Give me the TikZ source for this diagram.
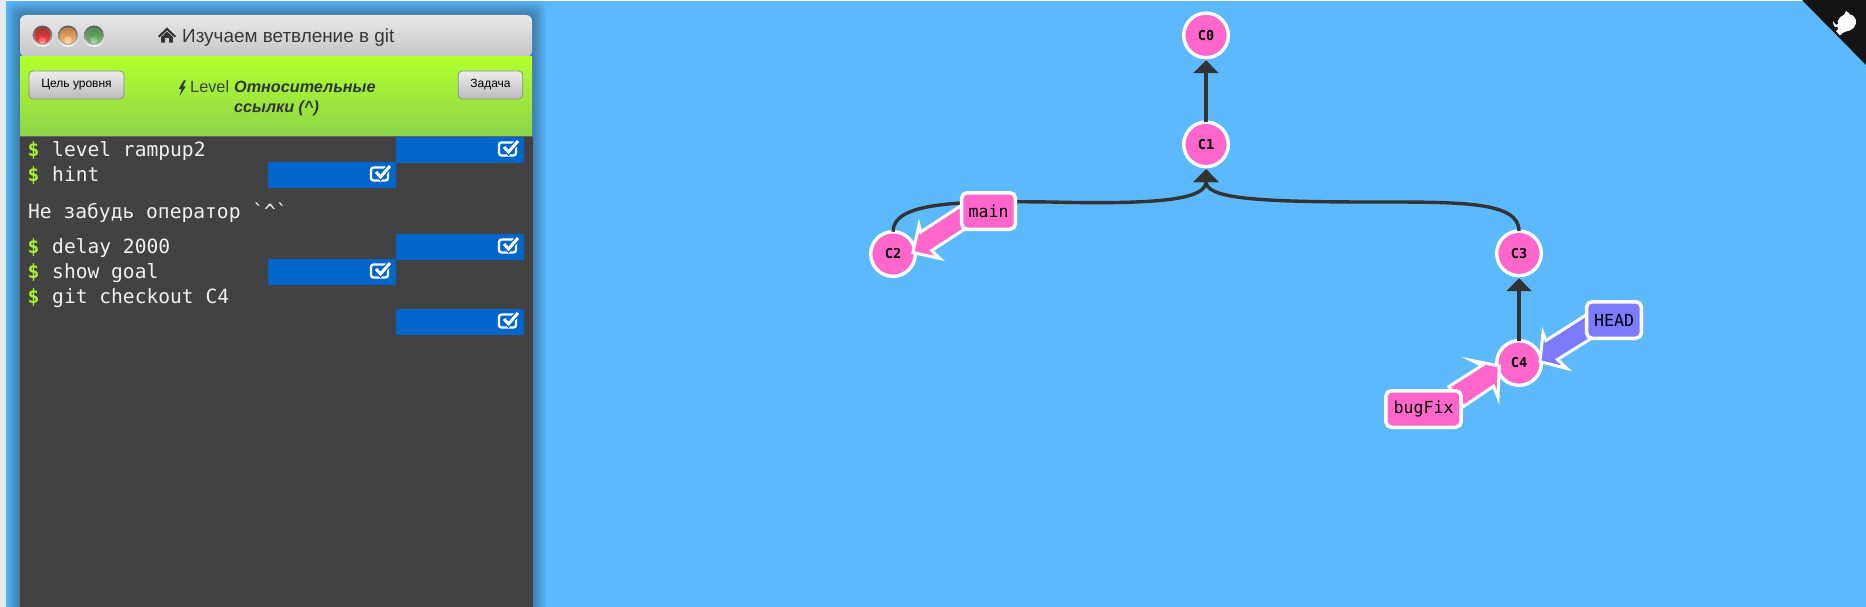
\documentclass[tikz,border=0pt]{standalone}
\usepackage{fontspec}
\setmainfont{Liberation Sans}
\newfontfamily\termfont{DejaVu Sans Mono}
\newfontfamily\gitfont{DejaVu Sans Mono}
\usetikzlibrary{arrows.meta,calc}
\definecolor{bgblue}{HTML}{5CB9FC}
\definecolor{leftstrip}{HTML}{E3ECF7}
\definecolor{pinkc}{HTML}{FF66CC}
\definecolor{headc}{HTML}{7B7BFF}
\definecolor{termbg}{HTML}{424242}
\definecolor{chkblue}{HTML}{0066CC}
\definecolor{dollar}{HTML}{A6F12E}
\definecolor{edgec}{HTML}{333333}
\definecolor{greentop}{HTML}{B0FF2C}
\definecolor{greenbot}{HTML}{8ED44A}
\tikzset{
  commit/.style={circle,draw=white,line width=3.4pt,fill=pinkc,minimum size=44.6pt,inner sep=0pt,outer sep=0pt,
    font=\gitfont\bfseries\fontsize{13.6}{14}\selectfont,text=black},
  branchbox/.style={draw=white,line width=3.5pt,fill=pinkc,rounded corners=5.5pt,minimum height=36.5pt,inner sep=0pt,outer sep=0pt,
    font=\termfont\fontsize{16.6}{17}\selectfont,text=black},
  refarrow/.style={draw=white,line width=3pt,fill=pinkc,line join=miter,miter limit=8},
  gitedge/.style={draw=edgec,line width=3.4pt,-{Triangle[width=25pt,length=13pt]},shorten >=2.5pt},
  cmd/.style={anchor=base west,inner sep=0pt,text=white!94!black,font=\termfont\fontsize{19.6}{20}\selectfont},
  dollarmark/.style={anchor=base west,inner sep=0pt,text=dollar,font=\termfont\bfseries\fontsize{19.6}{20}\selectfont},
  donebox/.style={fill=chkblue,minimum width=128pt,minimum height=25.6pt,inner sep=0pt,outer sep=0pt},
  btn/.style={draw=black!45,line width=0.8pt,rounded corners=4pt,top color=white!93!black,bottom color=black!27,
    minimum height=28pt,inner sep=0pt,font=\fontsize{12}{13}\selectfont,text=black},
  donemark/.pic={
    \draw[white,line width=2.3pt,rounded corners=2.5pt] (-9,-6.5) rectangle (8,6.5);
    \draw[chkblue,line width=5.5pt] (-4,-2) -- (0.5,3) -- (10,-8);
    \draw[white,line width=3pt] (-4,-2) -- (0.5,3) -- (10,-8);
  },
  light/.pic={
    \fill[white] (0,1.4) circle (10);
    \shade[top color=black!65,bottom color=black!25] (0,0) circle (10);
  }
}
\newcommand{\lamp}[4]{%
  \pic at (#1,35.5) {light};
  \shade[top color=#2,bottom color=#3] (#1,35.5) circle (8.2);
  \shade[top color=#3,bottom color=#4] (#1,40) circle (3.6);
}
\begin{document}
\begin{tikzpicture}[x=1pt,y=-1pt]
\useasboundingbox (0,0) rectangle (1866,607);
% page
\fill[bgblue] (0,0) rectangle (1866,607);
\fill[white] (0,0) rectangle (1866,1);
\fill[leftstrip] (0,0) rectangle (6,607);
% panel shadow
\begin{scope}
  \clip (6,1) rectangle (546,607);
  \foreach \s in {1,...,14}
    \fill[black,opacity=0.022,rounded corners=8pt] (20-\s,15-\s) rectangle (532+\s,640);
\end{scope}
% panel
\shade[top color=white!91!black,bottom color=black!23,rounded corners=6pt] (20,57) -- (20,15) -- (532,15) -- (532,57) -- cycle;
\fill[black!50!blue!30!white] (20,56.2) rectangle (532,57.2);
\shade[top color=greentop,bottom color=greenbot] (20,57) rectangle (532,136);
\fill[termbg] (19.5,136) rectangle (532.5,607);
\draw[black!60,line width=0.7pt] (19.5,136) -- (532.5,136);
% traffic lights
\lamp{42.5}{red!55!black!80!white}{red!75!white}{red!30!white}
\lamp{68}{orange!65!black!75!white}{orange!55!white}{orange!25!white}
\lamp{94}{green!35!black!70!white}{green!50!black!55!white}{green!40!black!25!white}
% home icon and title
\fill[edgec] (167,27.5) -- (176,36) -- (174.6,37.5) -- (167,30.4) -- (159.4,37.5) -- (158,36) -- cycle;
\fill[edgec] (167,31.6) -- (172.8,37) -- (172.8,42.6) -- (169,42.6) -- (169,38) -- (165,38) -- (165,42.6) -- (161.2,42.6) -- (161.2,37) -- cycle;
\node[anchor=base west,inner sep=0pt,text=black!78,font=\fontsize{18.9}{19}\selectfont] (title) at (182,42.5) {Изучаем ветвление в git};
% level bar
\node[btn,minimum width=95pt,text depth=3pt,text height=9pt] (goalbtn) at (76.5,85) {Цель уровня};
\node[btn,minimum width=64.5pt,text depth=3pt,text height=9pt] (taskbtn) at (490.5,85) {Задача};
\fill[edgec] (183.8,80.5) -- (178.8,88.8) -- (181.6,88.8) -- (179.6,96) -- (185.8,86.4) -- (182.9,86.4) -- (185.8,80.5) -- cycle;
\node[anchor=base west,inner sep=0pt,text=black!75,font=\fontsize{16.3}{16}\selectfont] (levelword) at (190,93) {Level};
\node[anchor=north west,inner sep=0pt,align=left,text=black!80,font=\bfseries\itshape\fontsize{16.2}{20}\selectfont] (levelname) at (234,80.5) {Относительные\\ссылки (\textasciicircum)};
% terminal
\node[donebox] (d1) at (460,150) {};
\node[donebox] (d2) at (332,175) {};
\node[donebox] (d3) at (460,247) {};
\node[donebox] (d4) at (332,272) {};
\node[donebox] (d5) at (460,322) {};
\foreach \b in {d1,d2,d3,d4,d5} \pic at ($(\b.east)+(-16,-1)$) {donemark};
\node[dollarmark] (p1) at (27.5,157) {\$};
\node[cmd] (c1t) at (52,157) {level rampup2};
\node[dollarmark] (p2) at (27.5,182) {\$};
\node[cmd] (c2t) at (52,182) {hint};
\node[cmd] (msg) at (28,218) {Не забудь оператор \textasciigrave\textasciicircum\textasciigrave};
\node[dollarmark] (p3) at (27.5,253.4) {\$};
\node[cmd] (c3t) at (52,253.4) {delay 2000};
\node[dollarmark] (p4) at (27.5,278.4) {\$};
\node[cmd] (c4t) at (52,278.4) {show goal};
\node[dollarmark] (p5) at (27.5,303.4) {\$};
\node[cmd] (c5t) at (52,303.4) {git checkout C4};
% commits
\node[commit] (C0) at (1206,35.4) {C0};
\node[commit] (C1) at (1206,144.4) {C1};
\node[commit] (C2) at (893,254) {C2};
\node[commit] (C3) at (1519,253.4) {C3};
\node[commit] (C4) at (1519,363) {C4};
\coordinate (midL) at (1050,202);
\coordinate (midR) at (1370,202);
\draw[gitedge] (C1.north) -- (C0.south);
\draw[gitedge] (C4.north) -- (C3.south);
\draw[gitedge] (C2.north) .. controls +(0,-30) and ($(midL)+(-90,-1)$) .. (midL) .. controls +(120,3) and ($(C1.south)+(0,31)$) .. (C1.south);
\draw[gitedge] (C3.north) .. controls +(0,-30) and ($(midR)+(90,0)$) .. (midR) .. controls +(-120,0) and ($(C1.south)+(0,31)$) .. (C1.south);
% branch positions
\coordinate (mainAt) at (988.5,211);
\coordinate (bugAt) at (1423.5,409);
\coordinate (headAt) at (1614,320);
% reference arrows
\draw[refarrow] ($(C2)+(20,-1.5)$) -- ($(C2)+(26,-29)$) -- ($(C2)+(27.7,-22)$) -- ($(mainAt)+(-28,-5)$) -- ($(mainAt)+(-22,17)$) -- ($(C2)+(38.7,-3.5)$) -- ($(C2)+(47,4.5)$) -- cycle;
\draw[refarrow,fill=headc] ($(C4)+(21,-1.3)$) -- ($(C4)+(24,-30)$) -- ($(C4)+(27,-22.5)$) -- ($(headAt)+(-28,-5)$) -- ($(headAt)+(-22,18)$) -- ($(C4)+(38.5,-3.5)$) -- ($(C4)+(48,5.5)$) -- cycle;
\draw[refarrow] ($(C4)+(-19.7,3)$) -- ($(C4)+(-47,-2.5)$) -- ($(C4)+(-37,2.5)$) -- ($(bugAt)+(25.5,-22.5)$) -- ($(bugAt)+(40,-2.5)$) -- ($(C4)+(-25.5,23.2)$) -- ($(C4)+(-21,34.5)$) -- cycle;
% branch labels
\node[branchbox,minimum width=53.8pt] (main) at (mainAt) {main};
\node[branchbox,minimum width=75.2pt] (bugFix) at (bugAt) {bugFix};
\node[branchbox,minimum width=54.8pt,fill=headc] (HEAD) at (headAt) {HEAD};
% corner ribbon
\fill[black!92] (1802,0) -- (1866,0) -- (1866,65) -- cycle;
\fill[white] (1846,11) .. controls (1848,12) and (1849,13) .. (1850,14.5) .. controls (1853,15) .. (1856,20) .. controls (1857,26) and (1852,31) .. (1846,31.5) .. controls (1844,32) and (1842,33) .. (1840,35.5) -- (1836,31) .. controls (1838,30) .. (1838,27) .. controls (1835,28) and (1833,26) .. (1833,21) .. controls (1834,22) .. (1835,24) .. controls (1836,25) .. (1838,24) .. controls (1837,20) and (1840,16) .. (1844,15) -- cycle;
\end{tikzpicture}
\end{document}
